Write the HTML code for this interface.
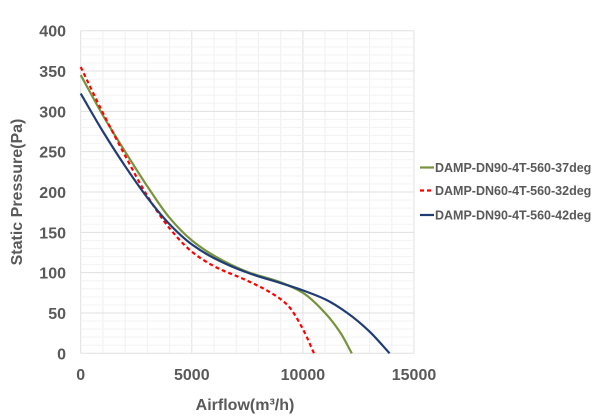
<!DOCTYPE html>
<html><head><meta charset="utf-8"><style>
html,body{margin:0;padding:0;background:#fff;}
svg{display:block;font-family:"Liberation Sans",Arial,sans-serif;}
</style></head><body>
<svg id="chart" width="600" height="416" viewBox="0 0 600 416">
<g id="grid"></g>
<g id="axes"></g>
<g id="series"></g>
<text x="245" y="410" text-anchor="middle" font-size="16" font-weight="bold" fill="#595959">Airflow(m³/h)</text>
<text transform="translate(22,192) rotate(-90)" text-anchor="middle" font-size="16" font-weight="bold" fill="#595959">Static Pressure(Pa)</text>
<g id="legend"></g>
</svg>
<script>
const xTicks = [0, 5000, 10000, 15000];
const yTicks = [0, 50, 100, 150, 200, 250, 300, 350, 400];
const seriesNames = ["DAMP-DN90-4T-560-37deg", "DAMP-DN60-4T-560-32deg", "DAMP-DN90-4T-560-42deg"];
const greenX = [0, 1000, 2000, 3000, 4000, 5000, 6000, 7500, 9000, 10000, 11000, 11700, 12200];
const greenY = [345, 295, 250, 207, 168, 140, 121, 101, 88, 75, 50, 25, 0];
const redX = [0, 1000, 2000, 3000, 4000, 5000, 6000, 7500, 8500, 9300, 10000, 10500];
const redY = [355, 298, 245, 195, 155, 126, 108, 90, 76, 60, 30, 0];
const blueX = [0, 1000, 2000, 3000, 4000, 5000, 6000, 7500, 9000, 10000, 11000, 12000, 13000, 13900];
const blueY = [322, 275, 232, 193, 160, 135, 118, 100, 87, 78, 67, 50, 27, 0];

const NS = "http://www.w3.org/2000/svg";
const X0 = 80.7, X1 = 414, Y0 = 353.3, Y1 = 30.7;
const sx = v => X0 + v / 15000 * (X1 - X0);
const sy = v => Y0 - v / 400 * (Y0 - Y1);
function mk(tag, attrs, parent) {
  const e = document.createElementNS(NS, tag);
  for (const k in attrs) e.setAttribute(k, attrs[k]);
  parent.appendChild(e); return e;
}
const grid = document.getElementById('grid');
for (let v = 0; v <= 15000; v += 1000) {
  const l = mk('line', {x1: sx(v), x2: sx(v), y1: sy(0), y2: sy(400), stroke: v % 5000 === 0 ? '#e0e0e0' : '#f0f0f0', 'stroke-width': 1}, grid);
  
  
}
for (let v = 0; v <= 400; v += 10) {
  const l = mk('line', {x1: sx(0), x2: sx(15000), y1: sy(v), y2: sy(v), stroke: v % 50 === 0 ? '#e0e0e0' : '#f3f3f3', 'stroke-width': 1}, grid);
  
  
}
const axes = document.getElementById('axes');
xTicks.forEach(v => {
  const t = mk('text', {x: sx(v), y: 380, 'text-anchor': 'middle', 'font-size': 16, 'font-weight': 'bold', fill: '#595959'}, axes);
  t.textContent = v;
  
  
});
yTicks.forEach(v => {
  const t = mk('text', {x: 66, y: sy(v) + 6, 'text-anchor': 'end', 'font-size': 16, 'font-weight': 'bold', fill: '#595959'}, axes);
  t.textContent = v;
  
  
});
// monotone cubic (Fritsch-Carlson) in data space
function smooth(xs, ys) {
  const n = xs.length, d = [], m = [];
  for (let i = 0; i < n - 1; i++) d.push((ys[i + 1] - ys[i]) / (xs[i + 1] - xs[i]));
  m[0] = d[0]; m[n - 1] = d[n - 2];
  for (let i = 1; i < n - 1; i++) {
    if (d[i - 1] * d[i] <= 0) m[i] = 0;
    else {
      const h0 = xs[i] - xs[i - 1], h1 = xs[i + 1] - xs[i];
      const w1 = 2 * h1 + h0, w2 = h1 + 2 * h0;
      m[i] = (w1 + w2) / (w1 / d[i - 1] + w2 / d[i]);
    }
  }
  let path = 'M' + sx(xs[0]) + ',' + sy(ys[0]);
  for (let i = 0; i < n - 1; i++) {
    const h = xs[i + 1] - xs[i];
    const c1x = xs[i] + h / 3, c1y = ys[i] + m[i] * h / 3;
    const c2x = xs[i + 1] - h / 3, c2y = ys[i + 1] - m[i + 1] * h / 3;
    path += ' C' + sx(c1x) + ',' + sy(c1y) + ' ' + sx(c2x) + ',' + sy(c2y) + ' ' + sx(xs[i + 1]) + ',' + sy(ys[i + 1]);
  }
  return path;
}
const sg = document.getElementById('series');
const defs = [[greenX, greenY, '#77933c', null], [redX, redY, '#ff0000', '4,3'], [blueX, blueY, '#1f3d74', null]];
const names = ['series-37deg', 'series-32deg', 'series-42deg'];
defs.forEach((s, i) => {
  const a = {d: smooth(s[0], s[1]), fill: 'none', stroke: s[2], 'stroke-width': 2.2};
  if (s[3]) a['stroke-dasharray'] = s[3];
  const p = mk('path', a, sg);
  
  
});
const lg = document.getElementById('legend');
const ly = [167.5, 190.5, 215];
seriesNames.forEach((n, i) => {
  const a = {x1: 420, x2: 434, y1: ly[i], y2: ly[i], stroke: defs[i][2], 'stroke-width': 2.2};
  if (defs[i][3]) a['stroke-dasharray'] = '4,3';
  const l = mk('line', a, lg);
  
  
  const t = mk('text', {x: 435, y: ly[i] + 4.5, 'font-size': 12.5, 'font-weight': 'bold', fill: '#595959'}, lg);
  t.textContent = n;
  
  
});
</script>
</body></html>
